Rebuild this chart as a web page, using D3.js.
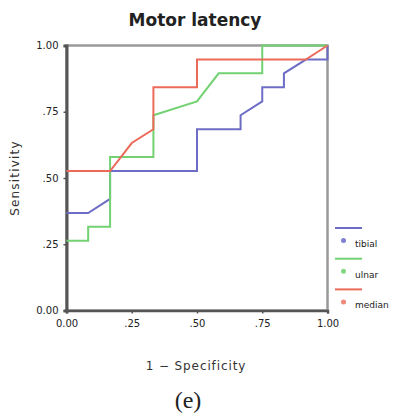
<!DOCTYPE html>
<html>
<head>
<meta charset="utf-8">
<script src="https://cdn.jsdelivr.net/npm/d3@7"></script>
<style>
  body { margin: 0; background: #fff; }
  svg { display: block; }
</style>
</head>
<body>
<svg id="chart" width="393" height="417"></svg>
<script>
// ROC curves
const seriesNames = ['tibial', 'ulnar', 'median'];
const tickValues = [0, 0.25, 0.5, 0.75, 1];
const tickLabels = ['0.00', '.25', '.50', '.75', '1.00'];

const tibialFpr = [0, 0.083, 0.167, 0.167, 0.5, 0.5, 0.667, 0.667, 0.75, 0.75, 0.833, 0.833, 0.917, 1, 1];
const tibialTpr = [0.368, 0.368, 0.421, 0.526, 0.526, 0.684, 0.684, 0.737, 0.789, 0.842, 0.842, 0.895, 0.947, 0.947, 1];

const ulnarFpr = [0, 0.083, 0.083, 0.167, 0.167, 0.333, 0.333, 0.5, 0.583, 0.75, 0.75, 1];
const ulnarTpr = [0.263, 0.263, 0.316, 0.316, 0.579, 0.579, 0.737, 0.789, 0.895, 0.895, 1, 1];

const medianFpr = [0, 0.167, 0.25, 0.333, 0.333, 0.5, 0.5, 0.917, 1];
const medianTpr = [0.526, 0.526, 0.632, 0.684, 0.842, 0.842, 0.947, 0.947, 1];

const colors = ['#6d6dc6', '#72d272', '#ec6a5a'];
const dotColors = ['#8080d0', '#80d880', '#f08878'];

const series = [
  { name: seriesNames[0], fpr: tibialFpr, tpr: tibialTpr },
  { name: seriesNames[1], fpr: ulnarFpr, tpr: ulnarTpr },
  { name: seriesNames[2], fpr: medianFpr, tpr: medianTpr },
];

const svg = d3.select('#chart');
const plotLeft = 66.5, plotRight = 327.5, plotTop = 45.5, plotBottom = 310.5;

const x = d3.scaleLinear().domain([0, 1]).range([plotLeft, plotRight]);
const y = d3.scaleLinear().domain([0, 1]).range([plotBottom, plotTop]);

// Title
svg.append('text')
  .attr('x', 195).attr('y', 26)
  .attr('text-anchor', 'middle')
  .style('font-family', 'DejaVu Sans')
  .style('font-size', '17px')
  .style('font-weight', 'bold')
  .attr('fill', '#222')
  .text('Motor latency');

// frame
svg.append('rect')
  .attr('x', plotLeft).attr('y', plotTop)
  .attr('width', plotRight - plotLeft).attr('height', plotBottom - plotTop)
  .attr('fill', 'none')
  .attr('stroke', '#999')
  .attr('stroke-width', 2.5);

// axes
const yAxis = d3.axisLeft(y).tickValues(tickValues)
  .tickFormat((d, i) => tickLabels[i]).tickSize(3).tickPadding(5);
const xAxis = d3.axisBottom(x).tickValues(tickValues)
  .tickFormat((d, i) => tickLabels[i]).tickSize(3).tickPadding(6);

const gy = svg.append('g').attr('transform', `translate(${plotLeft},0)`).call(yAxis);
const gx = svg.append('g').attr('transform', `translate(0,${plotBottom})`).call(xAxis);

[gy, gx].forEach(g => {
  g.select('.domain').attr('stroke', '#555').attr('stroke-width', 3);
  g.selectAll('.tick line').attr('stroke', '#555').attr('stroke-width', 1.5);
  g.selectAll('.tick text')
    .style('font-family', 'DejaVu Sans')
    .style('font-size', '10px')
    .attr('fill', '#222');
});
gx.select('.domain').attr('stroke-width', 2.5);

// curves
const line = d3.line().x(d => x(d[0])).y(d => y(d[1]));

series.forEach((s, i) => {
  const pts = s.fpr.map((f, j) => [f, s.tpr[j]]);
  svg.append('path')
    .datum(pts)
    .attr('d', line)
    .attr('fill', 'none')
    .attr('stroke', colors[i])
    .attr('stroke-width', 2)
    .attr('stroke-linejoin', 'miter');
});

// axis titles
svg.append('text')
  .attr('transform', 'translate(19,178) rotate(-90)')
  .attr('text-anchor', 'middle')
  .style('font-family', 'DejaVu Sans')
  .style('font-size', '12px')
  .style('letter-spacing', '1.2px')
  .attr('fill', '#333')
  .text('Sensitivity');

svg.append('text')
  .attr('x', 196).attr('y', 370)
  .attr('text-anchor', 'middle')
  .style('font-family', 'DejaVu Sans')
  .style('font-size', '12px')
  .style('letter-spacing', '0.9px')
  .attr('fill', '#333')
  .text('1 \u2212 Specificity');

// legend
const legend = svg.append('g');
series.forEach((s, i) => {
  const ly = 228 + i * 30.7;
  legend.append('line')
    .attr('x1', 335).attr('x2', 362)
    .attr('y1', ly).attr('y2', ly)
    .attr('stroke', colors[i]).attr('stroke-width', 2);
  legend.append('circle')
    .attr('cx', 343.5).attr('cy', ly + 12.5).attr('r', 2.5)
    .attr('fill', dotColors[i]);
  legend.append('text')
    .attr('x', 355).attr('y', ly + 19)
    .style('font-family', 'DejaVu Sans')
    .style('font-size', '9px')
    .attr('fill', '#222')
    .text(s.name);
});

// panel label
svg.append('text')
  .attr('x', 188).attr('y', 408)
  .attr('text-anchor', 'middle')
  .style('font-family', 'Liberation Serif')
  .style('font-size', '24px')
  .attr('fill', '#222')
  .text('(e)');
</script>
</body>
</html>
